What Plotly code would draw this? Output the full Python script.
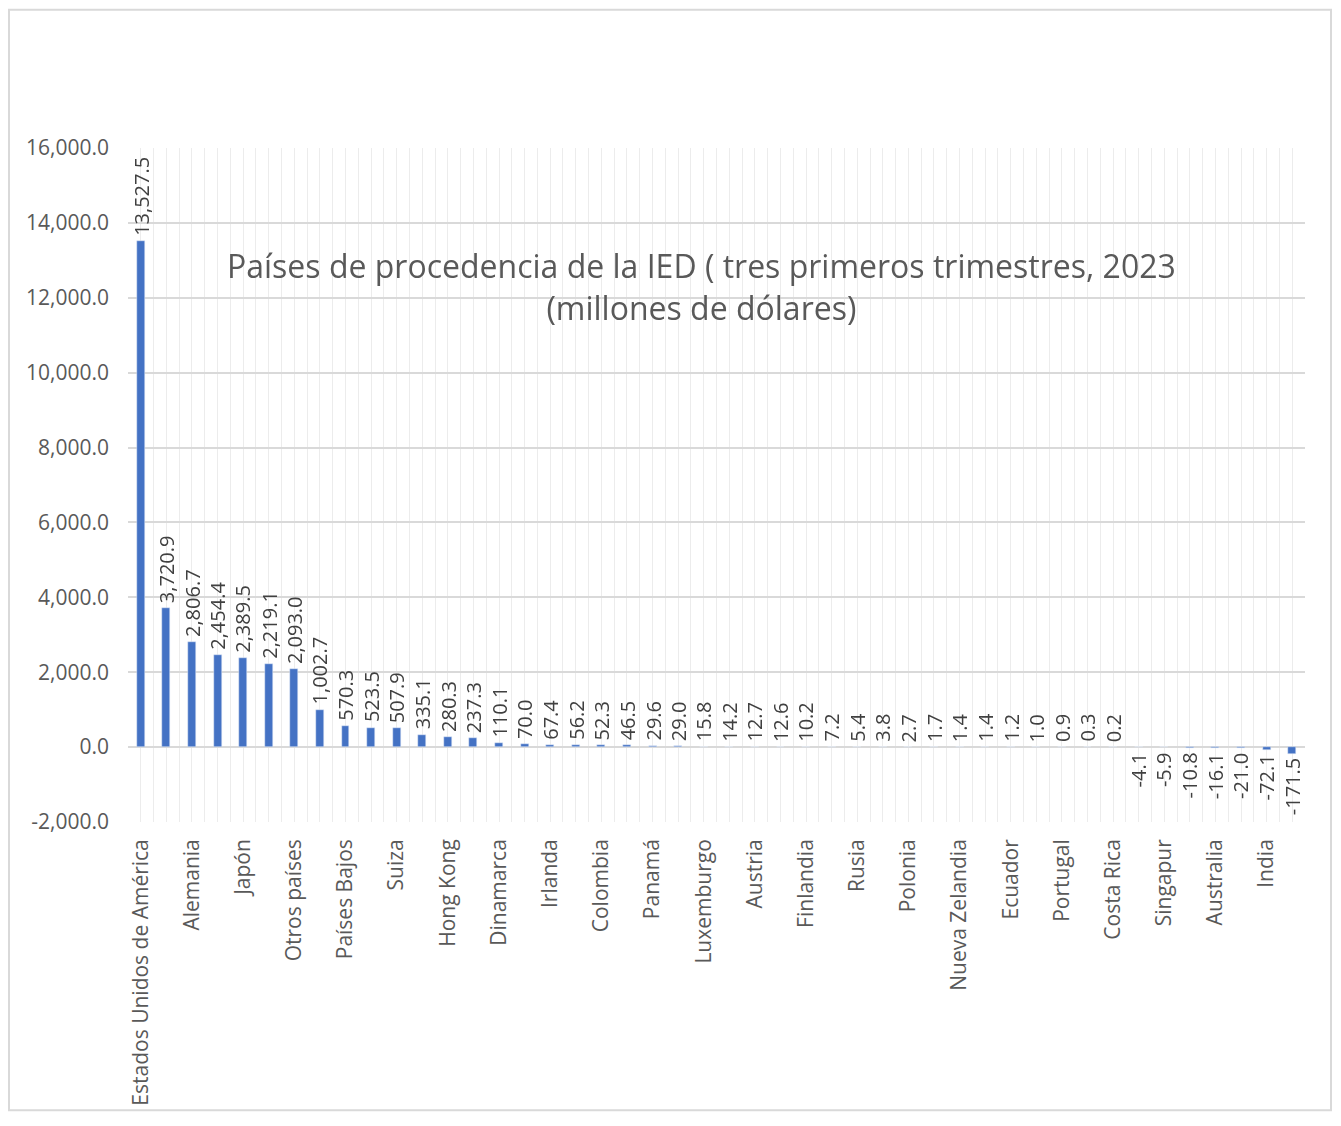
import plotly.graph_objects as go

# categories (Excel only shows every other label)
paises = ['Estados Unidos de América', 'Canadá', 'Alemania', 'España', 'Japón', 'Reino Unido',
          'Otros países', 'Francia', 'Países Bajos', 'Corea del Sur', 'Suiza', 'Bélgica',
          'Hong Kong', 'Italia', 'Dinamarca', 'Brasil', 'Irlanda', 'Chile', 'Colombia', 'Suecia',
          'Panamá', 'Argentina', 'Luxemburgo', 'Noruega', 'Austria', 'Israel', 'Finlandia', 'Perú',
          'Rusia', 'China', 'Polonia', 'Uruguay', 'Nueva Zelandia', 'Guatemala', 'Ecuador',
          'Venezuela', 'Portugal', 'Taiwán', 'Costa Rica', 'Islas Vírgenes', 'Singapur',
          'Islas Caimán', 'Australia', 'Barbados', 'India', 'Bermudas']

ied = [13527.5, 3720.9, 2806.7, 2454.4, 2389.5, 2219.1, 2093.0, 1002.7, 570.3, 523.5,
       507.9, 335.1, 280.3, 237.3, 110.1, 70.0, 67.4, 56.2, 52.3, 46.5,
       29.6, 29.0, 15.8, 14.2, 12.7, 12.6, 10.2, 7.2, 5.4, 3.8,
       2.7, 1.7, 1.4, 1.4, 1.2, 1.0, 0.9, 0.3, 0.2, -4.1,
       -5.9, -10.8, -16.1, -21.0, -72.1, -171.5]

y_ticks = [-2000, 0, 2000, 4000, 6000, 8000, 10000, 12000, 14000, 16000]

pos = list(range(len(paises)))
y_text = ['{:,.1f}'.format(v) for v in y_ticks]

fig = go.Figure()
fig.add_trace(go.Bar(x=pos, y=ied, marker_color='#4472C4', width=0.31,
                     hovertext=paises, name='IED'))
# invisible trace so the label axis shows up
fig.add_trace(go.Scatter(x=pos, y=ied, xaxis='x2', mode='markers', opacity=0,
                         hoverinfo='skip', showlegend=False))

# data labels, rotated; above positive bars, below negative ones
labels = []
for i, v in zip(pos, ied):
    labels.append(dict(x=i, y=v, xref='x', yref='y', text='{:,.1f}'.format(v),
                       showarrow=False, textangle=-90,
                       yanchor='bottom' if v >= 0 else 'top', yshift=3 if v >= 0 else -3,
                       font=dict(size=20, color='#404040', family='Open Sans')))

labels.append(dict(text='Países de procedencia de la IED ( tres primeros trimestres, 2023<br>(millones de dólares)',
                   x=0.487, y=0.86, xref='paper', yref='paper', showarrow=False,
                   font=dict(size=32, color='#595959', family='Open Sans')))

# page has an 8px body margin, so the figure is shifted and shrunk to fit the window
fig.update_layout(
    width=1325, height=1110,
    margin=dict(l=120, r=28, t=140, b=292),
    plot_bgcolor='white', paper_bgcolor='white',
    font=dict(family='Open Sans', size=18, color='#595959'),
    showlegend=False, bargap=0,
    annotations=labels,
    shapes=[dict(type='rect', xref='paper', yref='paper',
                 x0=-119 / 1177, x1=1203 / 1177, y0=-290 / 678, y1=817 / 678,
                 line=dict(color='#d9d9d9', width=2))],
)

fig.update_xaxes(range=[-0.5, 45.5], dtick=0.5, tick0=-0.5, showgrid=True, gridcolor='#ececec',
                 showticklabels=False, ticks='', zeroline=False, showline=False)
fig.update_layout(xaxis2=dict(overlaying='x', side='bottom', range=[-0.5, 45.5],
                              tickmode='array', tickvals=pos[::2], ticktext=paises[::2],
                              tickangle=-90, showgrid=False, ticks='', zeroline=False,
                              ticklabelstandoff=12,
                              tickfont=dict(size=21, color='#595959')))
fig.update_yaxes(range=[-2000, 16000], tickmode='array', tickvals=y_ticks, ticktext=y_text,
                 gridcolor='#d9d9d9', gridwidth=1.5, zeroline=True, zerolinecolor='#d9d9d9',
                 zerolinewidth=1.5, showline=False, ticks='', ticklabelstandoff=18,
                 tickfont=dict(size=21, color='#595959'))

fig.write_html("out.html")
